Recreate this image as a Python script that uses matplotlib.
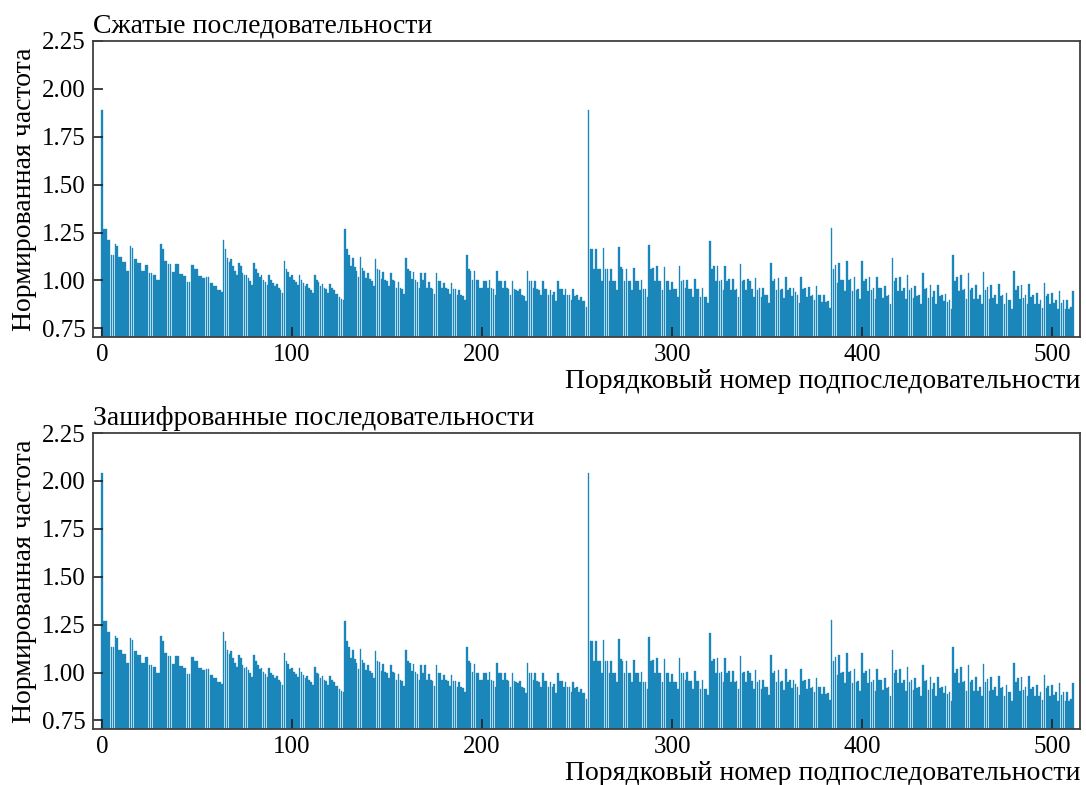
import numpy as np
import matplotlib
matplotlib.use("Agg")
import matplotlib.pyplot as plt

plt.rcParams["font.family"] = ["Liberation Serif", "DejaVu Serif"]
plt.rcParams["font.size"] = 18

# normalized frequency of each 9-bit subsequence, in blocks of 64
block0 = [1.89, 1.27, 1.27, 1.21, 1.21, 1.135, 1.135, 1.19,
          1.18, 1.12, 1.12, 1.095, 1.095, 1.05, 1.05, 1.18,
          1.17, 1.11, 1.11, 1.09, 1.09, 1.05, 1.05, 1.08,
          1.08, 1.04, 1.04, 1.03, 1.03, 1.0, 1.0, 1.19,
          1.165, 1.10, 1.10, 1.085, 1.085, 1.045, 1.045, 1.085,
          1.085, 1.035, 1.035, 1.025, 1.025, 0.99, 0.99, 1.08,
          1.08, 1.06, 1.06, 1.025, 1.025, 1.015, 1.015, 1.02,
          1.02, 0.985, 0.985, 0.97, 0.97, 0.95, 0.95, 0.94]
block1 = [1.21, 1.165, 1.118, 1.095, 1.11, 1.075, 1.052, 1.031,
          1.092, 1.078, 1.04, 1.026, 1.031, 1.014, 0.995, 0.978,
          1.092, 1.06, 1.04, 1.017, 1.026, 1.005, 0.99, 0.978,
          1.026, 1.0, 0.985, 0.97, 0.983, 0.962, 0.952, 0.934,
          1.10, 1.06, 1.043, 1.017, 1.026, 1.005, 0.99, 0.974,
          1.026, 1.005, 0.986, 0.97, 0.983, 0.962, 0.952, 0.934,
          1.03, 1.0, 0.99, 0.97, 0.983, 0.962, 0.957, 0.934,
          0.983, 0.962, 0.948, 0.93, 0.927, 0.913, 0.905, 0.90]
block2 = [1.27, 1.165, 1.134, 1.078, 1.118, 1.07, 1.05, 1.017,
          1.122, 1.064, 1.05, 1.014, 1.04, 1.009, 0.995, 0.97,
          1.113, 1.06, 1.057, 1.009, 1.043, 1.004, 0.995, 0.97,
          1.038, 1.004, 0.995, 0.962, 0.99, 0.962, 0.957, 0.927,
          1.118, 1.06, 1.052, 1.009, 1.043, 1.004, 0.99, 0.962,
          1.04, 1.0, 1.04, 0.962, 0.99, 0.962, 0.957, 0.927,
          1.04, 0.995, 0.995, 0.962, 0.988, 0.962, 0.957, 0.927,
          0.988, 0.957, 0.957, 0.922, 0.948, 0.922, 0.918, 0.896]
block3 = [1.135, 1.06, 1.052, 1.005, 1.047, 1.0, 1.0, 0.962,
          0.962, 0.995, 0.995, 0.962, 1.004, 0.96, 0.957, 0.922,
          1.05, 0.995, 0.995, 0.96, 0.995, 0.96, 0.957, 0.922,
          0.995, 0.957, 0.952, 0.945, 0.957, 0.922, 0.918, 0.893,
          1.052, 0.995, 0.995, 0.96, 0.995, 0.957, 0.952, 0.925,
          0.995, 0.957, 0.957, 0.922, 0.952, 0.922, 0.94, 0.893,
          0.995, 0.957, 0.957, 0.922, 0.953, 0.922, 0.922, 0.896,
          0.953, 0.918, 0.922, 0.896, 0.913, 0.893, 0.893, 0.861]
block4 = [1.89, 1.165, 1.165, 1.06, 1.165, 1.06, 1.06, 0.995,
          1.168, 1.06, 1.06, 0.995, 1.06, 0.995, 0.995, 0.952,
          1.174, 1.07, 1.06, 0.995, 1.06, 0.995, 0.995, 0.952,
          1.066, 0.995, 0.995, 0.952, 1.004, 0.953, 0.953, 0.913,
          1.186, 1.06, 1.064, 0.995, 1.078, 0.995, 0.995, 0.948,
          1.07, 0.995, 0.995, 0.948, 0.99, 0.953, 0.953, 0.913,
          1.075, 0.995, 1.0, 0.96, 1.004, 0.957, 0.957, 0.913,
          1.009, 0.957, 0.957, 0.913, 0.962, 0.913, 0.913, 0.882]
block5 = [1.208, 1.06, 1.073, 0.995, 1.075, 0.995, 1.004, 0.948,
          1.078, 0.995, 1.009, 0.948, 1.009, 0.952, 0.957, 0.913,
          1.087, 0.995, 1.004, 0.948, 1.009, 0.995, 0.957, 0.913,
          1.014, 0.952, 0.962, 0.913, 0.962, 0.922, 0.922, 0.882,
          1.092, 0.995, 1.009, 0.948, 1.014, 0.952, 0.957, 0.908,
          1.017, 0.952, 0.962, 0.917, 0.962, 0.94, 0.922, 0.882,
          1.02, 0.957, 0.962, 0.913, 0.965, 0.918, 0.922, 0.896,
          0.969, 0.922, 0.925, 0.887, 0.925, 0.887, 0.891, 0.856]
block6 = [1.272, 1.06, 1.082, 0.986, 1.092, 1.0, 1.004, 0.945,
          1.10, 1.004, 1.009, 0.945, 1.017, 0.952, 0.957, 0.904,
          1.104, 0.997, 1.009, 0.945, 1.017, 0.952, 0.962, 0.904,
          1.02, 0.962, 0.962, 0.91, 0.969, 0.917, 0.922, 0.875,
          1.116, 0.997, 1.014, 0.945, 1.02, 0.945, 0.962, 0.904,
          1.031, 0.952, 0.962, 0.91, 0.969, 0.917, 0.922, 0.875,
          1.038, 0.957, 0.962, 0.91, 0.974, 0.913, 0.945, 0.875,
          0.978, 0.917, 0.925, 0.893, 0.931, 0.887, 0.896, 0.852]
block7 = [1.134, 0.995, 1.017, 0.945, 1.031, 0.948, 0.957, 0.904,
          1.04, 0.948, 0.962, 0.904, 0.974, 0.904, 0.925, 0.878,
          1.043, 0.952, 0.965, 0.904, 0.978, 0.91, 0.922, 0.878,
          0.983, 0.917, 0.925, 0.878, 0.934, 0.896, 0.90, 0.853,
          1.05, 0.952, 0.97, 0.904, 0.978, 0.91, 0.922, 0.878,
          0.983, 0.913, 0.925, 0.878, 0.934, 0.878, 0.896, 0.858,
          0.988, 0.917, 0.927, 0.875, 0.934, 0.882, 0.896, 0.853,
          0.943, 0.882, 0.90, 0.853, 0.90, 0.853, 0.861, 0.944]

compressed = block0 + block1 + block2 + block3 + block4 + block5 + block6 + block7

# encrypted data differs only in the two all-zero/all-one peaks
encrypted = list(compressed)
encrypted[0] = 2.04
encrypted[256] = 2.04

titles = ["Сжатые последовательности", "Зашифрованные последовательности"]
series = [compressed, encrypted]
yticks = [0.75, 1.00, 1.25, 1.50, 1.75, 2.00, 2.25]
xticks = [0, 100, 200, 300, 400, 500]

bar_color = "#1a86ba"
spine_color = "#404040"

fig = plt.figure(figsize=(10.86, 7.85), dpi=100)
boxes = [[0.0856, 0.5707, 0.909, 0.3771],
         [0.0856, 0.0713, 0.909, 0.3771]]

for box, title, vals in zip(boxes, titles, series):
    ax = fig.add_axes(box)
    idx = np.arange(len(vals))
    ax.bar(idx, vals, width=0.85, color=bar_color, edgecolor=bar_color,
           linewidth=0.25)
    ax.set_xlim(-4.8, 514.8)
    ax.set_ylim(0.705, 2.25)
    ax.set_yticks(yticks)
    ax.set_yticklabels([f"{t:.2f}" for t in yticks])
    ax.set_xticks(xticks)
    ax.tick_params(direction="in", length=7, width=1.2, color="#202020",
                   labelsize=18, pad=5)
    for sp in ax.spines.values():
        sp.set_color(spine_color)
        sp.set_linewidth(1.3)
    ax.set_title(title, loc="left", fontsize=20, pad=6)
    ax.set_xlabel("Порядковый номер подпоследовательности", loc="right",
                  fontsize=20, labelpad=2)
    ax.set_ylabel("Нормированная частота", fontsize=20, labelpad=4)

fig.savefig("out.png", dpi=100)
